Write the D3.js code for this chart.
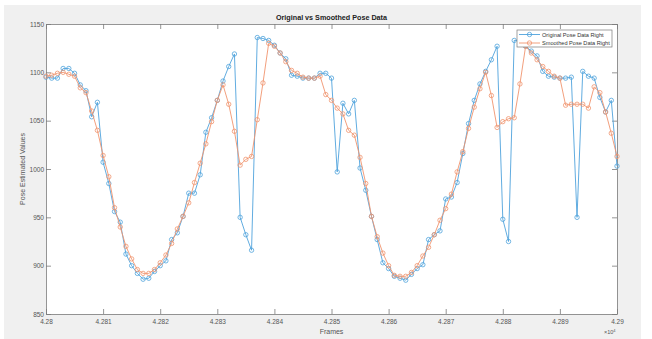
<!DOCTYPE html>
<html>
<head>
<meta charset="utf-8">
<script src="https://cdn.jsdelivr.net/npm/d3@7"></script>
<style>
  body { margin: 0; background: #ffffff; }
  svg text { font-family: "Liberation Sans", Arial, sans-serif; }
</style>
</head>
<body>
<div id="container"></div>
<script>
// frames 42800 .. 42900, one sample per frame
const frames = d3.range(42800, 42901);

const originalRight = [
  1095, 1094, 1094, 1104, 1104, 1099, 1087, 1081, 1054, 1069,
  1007, 985, 956, 945, 912, 900, 892, 886, 887, 894,
  900, 905, 927, 934, 951, 975, 975, 994, 1038, 1053,
  1071, 1091, 1106, 1119, 950, 932, 916, 1136, 1135, 1133,
  1128, 1120, 1114, 1097, 1096, 1094, 1094, 1094, 1099, 1099,
  1094, 997, 1068, 1057, 1071, 1001, 978, 951, 927, 903,
  897, 889, 887, 885, 891, 897, 901, 927, 932, 936,
  969, 971, 986, 1016, 1047, 1071, 1088, 1101, 1113, 1127,
  948, 925, 1133, 1133, 1127, 1122, 1117, 1101, 1096, 1095,
  1094, 1094, 1095, 950, 1101, 1096, 1094, 1074, 1059, 1071,
  1003
];

const smoothedRight = [
  1096, 1097, 1099, 1100, 1098, 1096, 1084, 1079, 1060, 1040,
  1014, 992, 960, 940, 920, 907, 896, 892, 892, 896,
  903, 911, 923, 938, 951, 965, 986, 1006, 1026, 1049,
  1071, 1087, 1067, 1039, 1004, 1010, 1013, 1051, 1089, 1130,
  1127, 1120, 1111, 1102, 1099, 1095, 1094, 1094, 1096, 1077,
  1071, 1063, 1057, 1040, 1035, 1012, 985, 951, 930, 913,
  900, 890, 889, 889, 893, 900, 910, 919, 932, 947,
  959, 974, 997, 1018, 1042, 1064, 1083, 1100, 1076, 1043,
  1049, 1052, 1053, 1088, 1127, 1120, 1113, 1106, 1101, 1096,
  1094, 1066, 1067, 1067, 1067, 1063, 1085, 1079, 1059, 1037,
  1013
];

const xTicks = [42800, 42810, 42820, 42830, 42840, 42850, 42860, 42870, 42880, 42890, 42900];
const yTicks = [850, 900, 950, 1000, 1050, 1100, 1150];
const seriesNames = ["Original Pose Data Right", "Smoothed Pose Data Right"];
const seriesColors = ["#4fa3dc", "#f0946e"];

const W = 652, H = 339;
const plotL = 46, plotR = 617, plotT = 24, plotB = 314;

let svg = d3.select("#container")
  .append("svg")
    .attr("width", W)
    .attr("height", H);

// figure background
svg.append("rect")
  .attr("x", 4).attr("y", 5)
  .attr("width", 637).attr("height", 334)
  .attr("fill", "#f0f0f0");

svg.append("rect")
  .attr("x", plotL).attr("y", plotT)
  .attr("width", plotR - plotL).attr("height", plotB - plotT)
  .attr("fill", "#ffffff");

let x = d3.scaleLinear().domain([42800, 42900]).range([plotL, plotR]);
let y = d3.scaleLinear().domain([850, 1150]).range([plotB, plotT]);

function xLabel(d) {
  return String(+(d / 10000).toFixed(4));
}

const axisColor = "#7a7a7a";
const labelColor = "#555555";

function styleAxis(g) {
  g.selectAll("path").attr("stroke", axisColor).attr("stroke-width", 0.8);
  g.selectAll("line").attr("stroke", axisColor).attr("stroke-width", 0.8);
  g.selectAll("text").attr("fill", labelColor).style("font-size", "6.5px");
}

svg.append("g")
  .attr("transform", "translate(0," + plotB + ")")
  .call(d3.axisBottom(x).tickValues(xTicks).tickFormat(xLabel).tickSizeInner(-5).tickSizeOuter(0).tickPadding(5))
  .call(styleAxis);

svg.append("g")
  .attr("transform", "translate(0," + plotT + ")")
  .call(d3.axisTop(x).tickValues(xTicks).tickFormat("").tickSizeInner(-5).tickSizeOuter(0))
  .call(styleAxis);

svg.append("g")
  .attr("transform", "translate(" + plotL + ",0)")
  .call(d3.axisLeft(y).tickValues(yTicks).tickFormat(d3.format("d")).tickSizeInner(-5).tickSizeOuter(0).tickPadding(2))
  .call(styleAxis);

svg.append("g")
  .attr("transform", "translate(" + plotR + ",0)")
  .call(d3.axisRight(y).tickValues(yTicks).tickFormat("").tickSizeInner(-5).tickSizeOuter(0))
  .call(styleAxis);

// series
let line = d3.line()
  .x((d, i) => x(frames[i]))
  .y(d => y(d));

[originalRight, smoothedRight].forEach(function(values, k) {
  let g = svg.append("g").attr("class", "series");
  g.append("path")
    .datum(values)
    .attr("d", line)
    .attr("fill", "none")
    .attr("stroke", seriesColors[k])
    .attr("stroke-width", 0.9);
  g.selectAll("circle").data(values).enter()
    .append("circle")
      .attr("cx", (d, i) => x(frames[i]))
      .attr("cy", d => y(d))
      .attr("r", 2.2)
      .attr("fill", "none")
      .attr("stroke", seriesColors[k])
      .attr("stroke-width", 0.8);
});

// titles
svg.append("text")
  .attr("x", (plotL + plotR) / 2)
  .attr("y", 20)
  .attr("text-anchor", "middle")
  .style("font-size", "7.2px")
  .style("font-weight", "bold")
  .attr("fill", "#222")
  .text("Original vs Smoothed Pose Data");

svg.append("text")
  .attr("x", (plotL + plotR) / 2)
  .attr("y", 334)
  .attr("text-anchor", "middle")
  .style("font-size", "7px")
  .attr("fill", labelColor)
  .text("Frames");

svg.append("text")
  .attr("transform", "translate(25," + (plotT + plotB) / 2 + ") rotate(-90)")
  .attr("text-anchor", "middle")
  .style("font-size", "7px")
  .attr("fill", labelColor)
  .text("Pose Estimated Values");

let expo = svg.append("text")
  .attr("x", 604)
  .attr("y", 334)
  .style("font-size", "5.5px")
  .attr("fill", labelColor);
expo.append("tspan").text("\u00d710");
expo.append("tspan").attr("dy", -2.5).style("font-size", "4px").text("4");

// legend
let legend = svg.append("g").attr("transform", "translate(517,30)");
legend.append("rect")
  .attr("width", 95).attr("height", 17)
  .attr("fill", "#ffffff")
  .attr("stroke", axisColor)
  .attr("stroke-width", 0.7);

seriesNames.forEach(function(name, k) {
  let ly = 4.5 + k * 8.5;
  legend.append("line")
    .attr("x1", 2).attr("x2", 23)
    .attr("y1", ly).attr("y2", ly)
    .attr("stroke", seriesColors[k])
    .attr("stroke-width", 0.9);
  legend.append("circle")
    .attr("cx", 12.5).attr("cy", ly).attr("r", 2.2)
    .attr("fill", "none")
    .attr("stroke", seriesColors[k])
    .attr("stroke-width", 0.8);
  legend.append("text")
    .attr("x", 25).attr("y", ly + 2)
    .style("font-size", "5.6px")
    .attr("fill", "#333")
    .text(name);
});
</script>
</body>
</html>
